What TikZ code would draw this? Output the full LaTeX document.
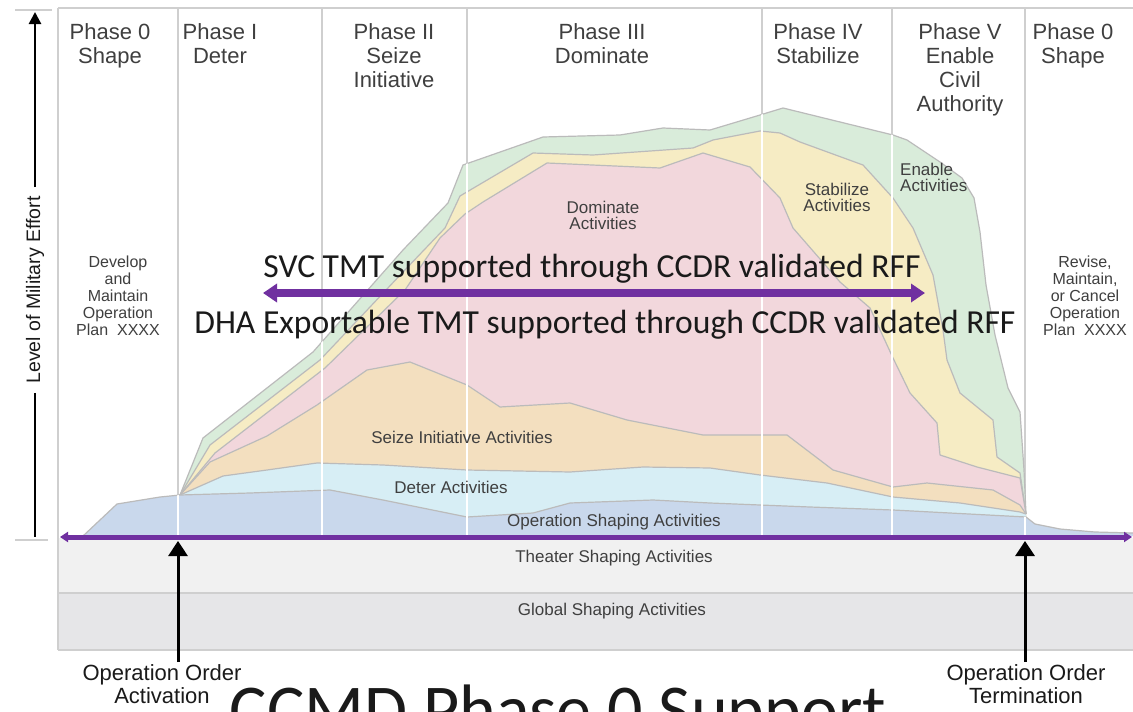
\documentclass[tikz,border=0pt]{standalone}
\usepackage{fontspec}
\setmainfont{Liberation Sans}
\newfontfamily\calibfont{Carlito}
\usepackage{tikz}
\usetikzlibrary{arrows.meta,positioning}

\definecolor{clrGrid}{HTML}{CFCFCF}
\definecolor{clrEdge}{HTML}{BBBBBB}
\definecolor{clrText}{HTML}{3F3F3F}
\definecolor{clrBig}{HTML}{1A1A1A}
\definecolor{clrPurple}{HTML}{7030A0}
\definecolor{clrTheater}{HTML}{F1F1F1}
\definecolor{clrGlobal}{HTML}{E6E6E8}
\definecolor{clrEnable}{HTML}{D9ECDA}
\definecolor{clrStabilize}{HTML}{F6ECC4}
\definecolor{clrDominate}{HTML}{F2D7DC}
\definecolor{clrSeize}{HTML}{F3DFBF}
\definecolor{clrDeter}{HTML}{D7EEF5}
\definecolor{clrShaping}{HTML}{C9D8EC}

\tikzstyle{phase}=[anchor=north, align=center, inner sep=0pt, text=clrText, font=\fontsize{22}{24}\selectfont]
\tikzstyle{activity}=[align=center, inner sep=0pt, text=clrText, font=\fontsize{17}{16}\selectfont]
\tikzstyle{note}=[anchor=north, align=center, inner sep=0pt, text=clrText, font=\fontsize{16}{17}\selectfont]
\tikzstyle{banner}=[anchor=base, inner sep=0pt, text=clrBig, font=\calibfont\fontsize{33.6}{36}\selectfont]
\tikzstyle{headline}=[anchor=base, inner sep=0pt, text=clrBig, font=\calibfont\fontsize{70}{76}\selectfont]
\tikzstyle{order}=[anchor=north, align=center, inner sep=2pt, text=clrBig, font=\fontsize{22}{23}\selectfont]
\tikzstyle{axislabel}=[inner sep=9pt, text=clrBig, font=\fontsize{19.5}{20}\selectfont]
\tikzstyle{edge}=[draw=clrEdge, line width=1.2pt, line join=round]
\tikzstyle{grid}=[draw=clrGrid, line width=2pt]
\tikzstyle{purplearrow}=[{Triangle[length=14pt,width=18pt]}-{Triangle[length=14pt,width=18pt]}, line width=8pt, draw=clrPurple]
\tikzstyle{mainline}=[{Triangle[length=8pt,width=10pt]}-{Triangle[length=8pt,width=10pt]}, line width=5pt, draw=clrPurple]
\tikzstyle{blackarrow}=[-{Triangle[length=15pt,width=19pt]}, line width=3pt, draw=black]
\tikzstyle{axisarrow}=[-{Triangle[length=12pt,width=12pt]}, line width=2.6pt, draw=black]
\tikzstyle{axisline}=[line width=2.6pt, draw=black]

\newcommand\enablecurve{(180,495) -- (203,438) -- (313,352) -- (403,250) -- (448,203) -- (463,165) -- (543,137) -- (620,135) -- (663,128) -- (710,130) -- (760,115) -- (783,108) -- (893,135) -- (907,140) -- (940,162) -- (962,178) -- (974,198) -- (980,232) -- (986,285) -- (995,335) -- (1008,388) -- (1020,412) -- (1024,470) -- (1026,514)}
\newcommand\stabilizecurve{(180,495) -- (210,445) -- (320,360) -- (403,272) -- (445,228) -- (460,196) -- (533,153) -- (593,155) -- (693,148) -- (713,140) -- (760,131) -- (780,133) -- (800,142) -- (863,165) -- (893,198) -- (913,228) -- (933,275) -- (943,330) -- (947,360) -- (960,393) -- (993,420) -- (997,457) -- (1020,473) -- (1026,514)}
\newcommand\dominatecurve{(180,495) -- (215,453) -- (325,368) -- (405,290) -- (440,238) -- (465,214) -- (483,202) -- (547,163) -- (660,168) -- (703,153) -- (750,167) -- (780,198) -- (793,228) -- (840,282) -- (870,308) -- (893,358) -- (910,393) -- (937,423) -- (940,455) -- (977,467) -- (1020,478) -- (1026,514)}
\newcommand\seizecurve{(180,495) -- (210,462) -- (267,436) -- (317,405) -- (367,370) -- (410,362) -- (467,385) -- (500,407) -- (570,403) -- (627,420) -- (703,435) -- (787,435) -- (833,470) -- (893,487) -- (927,483) -- (993,490) -- (1020,505) -- (1026,514)}
\newcommand\detercurve{(180,495) -- (223,476) -- (267,470) -- (317,463) -- (383,465) -- (467,470) -- (570,472) -- (643,467) -- (710,468) -- (760,475) -- (827,483) -- (893,497) -- (960,503) -- (1020,512) -- (1026,514)}
\newcommand\shapingcurve{(83,536) -- (100,520) -- (117,504) -- (160,497) -- (180,495) -- (250,493) -- (330,490) -- (383,500) -- (467,517) -- (533,513) -- (570,503) -- (653,500) -- (710,503) -- (810,507) -- (893,510) -- (1026,517) -- (1035,524) -- (1060,529) -- (1095,532) -- (1133,533)}

\begin{document}
\begin{tikzpicture}[x=1pt,y=-1pt]
	\useasboundingbox[fill=white] (0,0) rectangle (1133,712);

	% shaping bands and frame
	\fill[clrTheater] (58,538) rectangle (1133,593);
	\fill[clrGlobal] (58,593) rectangle (1133,650);
	\draw[grid, line width=1.5pt] (58,593) -- (1133,593);
	\draw[grid] (58,650) -- (1133,650);
	\draw[grid] (58,8) -- (1133,8);
	\draw[grid] (58,8) -- (58,650);
	\draw[grid, line width=1.5pt] (15,10) -- (52,10);
	\draw[grid, line width=1.5pt] (15,540) -- (48,540);
	\foreach \x in {178,322,467,762,892,1025}
		\draw[grid] (\x,8) -- (\x,536);

	% stacked activity areas
	\fill[clrEnable] \enablecurve -- (1026,536) -- (180,536) -- cycle;
	\draw[edge] \enablecurve;
	\fill[clrStabilize] \stabilizecurve -- (1026,536) -- (180,536) -- cycle;
	\draw[edge] \stabilizecurve;
	\fill[clrDominate] \dominatecurve -- (1026,536) -- (180,536) -- cycle;
	\draw[edge] \dominatecurve;
	\fill[clrSeize] \seizecurve -- (1026,536) -- (180,536) -- cycle;
	\draw[edge] \seizecurve;
	\fill[clrDeter] \detercurve -- (1026,536) -- (180,536) -- cycle;
	\draw[edge] \detercurve;
	\fill[clrShaping] \shapingcurve -- (1133,536) -- (83,536) -- cycle;
	\draw[edge] \shapingcurve;

	% phase dividers turn white inside the areas
	\begin{scope}
		\clip \enablecurve -- (1026,536) -- (180,536) -- cycle;
		\foreach \x in {322,467,762,892}
			\draw[white, line width=2.5pt] (\x,0) -- (\x,536);
	\end{scope}
	\begin{scope}
		\clip \shapingcurve -- (1133,536) -- (83,536) -- cycle;
		\foreach \x in {178,322,467,762,892,1025}
			\draw[white, line width=2.5pt] (\x,0) -- (\x,536);
	\end{scope}

	% phases
	\node[phase] (ph0) at (110,23) {Phase 0\\Shape};
	\node[phase] (ph1) at (220,23) {Phase I\\Deter};
	\node[phase] (ph2) at (394,23) {Phase II\\Seize\\Initiative};
	\node[phase] (ph3) at (602,23) {Phase III\\Dominate};
	\node[phase] (ph4) at (818,23) {Phase IV\\Stabilize};
	\node[phase] (ph5) at (960,23) {Phase V\\Enable\\Civil\\Authority};
	\node[phase] (ph6) at (1073,23) {Phase 0\\Shape};

	\node[note] (plan) at (118,256) {Develop\\and\\Maintain\\Operation\\Plan\ \ XXXX};
	\node[note] (revise) at (1085,256) {Revise,\\Maintain,\\or Cancel\\Operation\\Plan\ \ XXXX};

	% activities
	\node[activity] (dom) at (603,215) {Dominate\\Activities};
	\node[activity] (stab) at (837,197) {Stabilize\\Activities};
	\node[activity, align=left, anchor=west] (enab) at (900,177) {Enable\\Activities};
	\node[activity] (seize) at (462,437) {Seize Initiative Activities};
	\node[activity] (deter) at (451,487) {Deter Activities};
	\node[activity] (opshape) at (614,522) {Operation Shaping Activities};
	\node[activity] (theater) at (614,558) {Theater Shaping Activities};
	\node[activity] (global) at (612,611) {Global Shaping Activities};

	% support banners
	\node[banner] (svc) at (592,277) {SVC TMT supported through CCDR validated RFF};
	\coordinate (svcL) at (263,293);
	\coordinate (svcR) at (925,293);
	\draw[purplearrow] (svcL) -- (svcR);
	\node[banner] (dha) at (605,333) {DHA Exportable TMT supported through CCDR validated RFF};

	% base line and orders
	\coordinate (baseL) at (60,537);
	\coordinate (baseR) at (1132,537);
	\draw[mainline] (baseL) -- (baseR);

	\node[order] (actv) at (162,662) {Operation Order\\Activation};
	\coordinate (actTip) at (178,541);
	\draw[blackarrow] (actv.north -| actTip) -- (actTip);

	\node[order] (term) at (1026,662) {Operation Order\\Termination};
	\coordinate (termTip) at (1025,541);
	\draw[blackarrow] (term.north -| termTip) -- (termTip);

	% effort axis
	\node[axislabel, rotate=90] (effort) at (35,290) {Level of Military Effort};
	\coordinate (axTop) at (35,12);
	\coordinate (axBot) at (35,537);
	\draw[axisarrow] (effort.east) -- (axTop);
	\draw[axisline] (effort.west) -- (axBot);

	\node[headline] (title) at (558,733) {CCMD Phase 0 Support};
\end{tikzpicture}
\end{document}
